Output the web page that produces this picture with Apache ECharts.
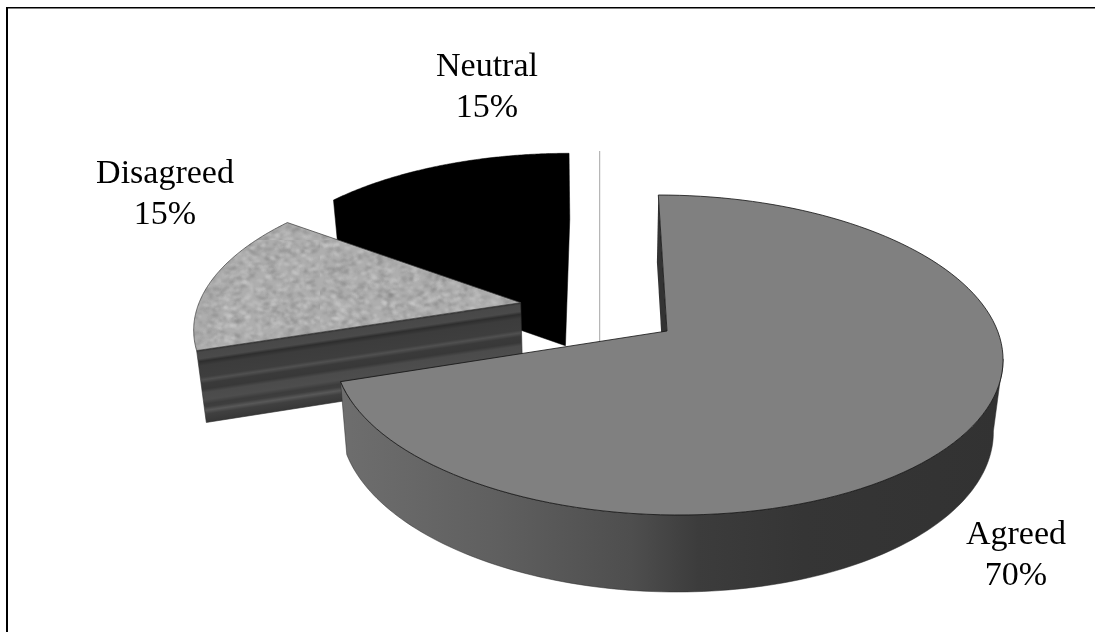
<!DOCTYPE html>
<html>
<head>
<meta charset="utf-8">
<title>Responses</title>
<style>
  html, body { margin: 0; padding: 0; background: #fff; }
  #chart { width: 1095px; height: 632px; }
</style>
<script src="https://cdn.jsdelivr.net/npm/echarts@6/dist/echarts.min.js"></script>
</head>
<body>
<div id="chart"></div>
<script>
// Survey responses, clockwise from twelve o'clock.
const categories = ['Agreed', 'Disagreed', 'Neutral'];
const shares = [70, 15, 15];

// Where each two-line label is centred on the page.
const labelCentres = [[1016, 556], [165, 195], [487, 88]];

// Exploded 3D pie: disc coordinates (u to the right, v towards the viewer)
// go through a perspective projection; depth runs from 0 (top face) to 1 (base).
const EXPLODE = 0.25;
const view = { cx: 667, cy: 331, rx: 330.6, ry: 156.4, shear: 10, persp: 0.15 };
const base = { vanishX: 600, inset: 0.024, drop: 67, dropRef: 195, dropSlope: 0.03125 };

// The outer wall only shows from where the rim turns to the viewer.
const RIM_TURN = 100 * Math.PI / 180;

// Banding across the cut face of the Disagreed slice, top edge to base.
const stripeStops = [0, 0.03, 0.12, 0.16, 0.22, 0.38, 0.42, 0.47, 0.55, 0.6, 0.7, 0.76, 0.8, 0.85, 0.9, 1];
const stripeTones = ['#333333', '#484848', '#4a4a4a', '#2e2e2e', '#3c3c3c', '#3e3e3e', '#505050', '#3a3a3a',
  '#383838', '#4b4b4b', '#4d4d4d', '#3c3c3c', '#3e3e3e', '#585858', '#404040', '#383838'];

function unitDir(theta) { return [Math.sin(theta), -Math.cos(theta)]; }

function project(u, v, depth) {
  const s = 1 / (1 - view.persp * v);
  let x = view.cx + (view.rx * u + view.shear * v) * s;
  let y = view.cy + view.ry * v * s;
  const topY = y;
  x += (base.vanishX - x) * base.inset * depth;
  y += depth * (base.drop + (topY - base.dropRef) * base.dropSlope);
  return [x, y];
}

const total = shares.reduce((a, b) => a + b, 0);
const spans = [];
shares.reduce((start, value) => {
  const end = start + value / total * Math.PI * 2;
  spans.push([start, end]);
  return end;
}, 0);

function sliceOrigin(i) {
  const mid = unitDir((spans[i][0] + spans[i][1]) / 2);
  const ref = unitDir((spans[0][0] + spans[0][1]) / 2);
  return [EXPLODE * (mid[0] - ref[0]), EXPLODE * (mid[1] - ref[1])];
}

function arcPoints(i, from, to, depth) {
  const o = sliceOrigin(i);
  const pts = [];
  const steps = 120;
  for (let k = 0; k <= steps; k++) {
    const d = unitDir(from + (to - from) * k / steps);
    pts.push(project(o[0] + d[0], o[1] + d[1], depth));
  }
  return pts;
}

function apexPoint(i, depth) {
  const o = sliceOrigin(i);
  return project(o[0], o[1], depth);
}

function radialWall(i, theta, d0, d1) {
  const o = sliceOrigin(i);
  const d = unitDir(theta);
  return [
    project(o[0], o[1], d0),
    project(o[0] + d[0], o[1] + d[1], d0),
    project(o[0] + d[0], o[1] + d[1], d1),
    project(o[0], o[1], d1)
  ];
}

// Mottled stone fill for the Disagreed face.
function stoneTexture() {
  const c = document.createElement('canvas');
  c.width = 320; c.height = 240;
  const ctx = c.getContext('2d');
  ctx.fillStyle = '#aeaeae';
  ctx.fillRect(0, 0, c.width, c.height);
  ctx.filter = 'blur(1px)';
  let seed = 12345;
  const next = () => (seed = (seed * 1103515245 + 12345) & 0x7fffffff) / 0x7fffffff;
  for (let n = 0; n < 5200; n++) {
    const light = next() > 0.5;
    ctx.fillStyle = light ? 'rgba(210,210,210,0.45)' : 'rgba(130,130,130,0.42)';
    ctx.beginPath();
    ctx.ellipse(next() * c.width, next() * c.height, 1.2 + next() * 2.6, 0.7 + next() * 1,
      (next() - 0.5) * 0.8, 0, Math.PI * 2);
    ctx.fill();
  }
  return c;
}
const stone = { image: stoneTexture(), repeat: 'repeat' };

const agreedWall = new echarts.graphic.LinearGradient(340, 0, 1003, 0, [
  { offset: 0, color: '#6e6e6e' },
  { offset: 0.24, color: '#5f5f5f' },
  { offset: 0.44, color: '#4e4e4e' },
  { offset: 0.54, color: '#3c3c3c' },
  { offset: 0.7, color: '#353535' },
  { offset: 1, color: '#323232' }
], true);

// Gradient running square to the top edge of a cut face, so the bands stay parallel to it.
function stripeFill(quad) {
  const [a, b, c, d] = quad;
  const ex = b[0] - a[0], ey = b[1] - a[1];
  const len = Math.hypot(ex, ey);
  const nx = -ey / len, ny = ex / len;
  const mid = [(a[0] + b[0]) / 2, (a[1] + b[1]) / 2];
  const low = [(c[0] + d[0]) / 2, (c[1] + d[1]) / 2];
  const reach = (low[0] - mid[0]) * nx + (low[1] - mid[1]) * ny;
  return new echarts.graphic.LinearGradient(
    mid[0], mid[1], mid[0] + nx * reach, mid[1] + ny * reach,
    stripeTones.map((color, j) => ({ offset: stripeStops[j], color: color })),
    true
  );
}

function polygon(points, fill, z2, stroke, lineWidth) {
  return {
    type: 'polygon',
    z2: z2,
    shape: { points: points },
    style: { fill: fill, stroke: stroke || null, lineWidth: lineWidth || 0 }
  };
}

function drawAgreed(i) {
  const [a, b] = spans[i];
  const upper = arcPoints(i, a, b, 0);
  const wallUpper = arcPoints(i, RIM_TURN, b, 0);
  const wallLower = arcPoints(i, RIM_TURN, b, 1);
  return [
    polygon(radialWall(i, a, 0, 1), '#333333', 30),
    polygon(wallUpper.concat(wallLower.slice().reverse()), agreedWall, 31, '#2a2a2a', 0.5),
    polygon([apexPoint(i, 0)].concat(upper), '#808080', 32, '#111111', 0.8)
  ];
}

function drawDisagreed(i) {
  const [a, b] = spans[i];
  const face = radialWall(i, a, 0, 1);
  return [
    polygon(face, stripeFill(face), 20, '#2b2b2b', 0.6),
    polygon([apexPoint(i, 0)].concat(arcPoints(i, a, b, 0)), stone, 22, '#3a3a3a', 0.7)
  ];
}

// Black on black: only the outline of the block reads, so it is one shape.
function drawNeutral(i) {
  const [a, b] = spans[i];
  const rim = arcPoints(i, a, b, 0);
  const silhouette = rim.concat([
    radialWall(i, b, 0, 1)[2],
    apexPoint(i, 1),
    radialWall(i, a, 0, 1)[2]
  ]);
  return [polygon(silhouette, '#000000', 10, '#000000', 0.5)];
}

const painters = [drawAgreed, drawDisagreed, drawNeutral];

function renderSlice(params, api) {
  const i = params.dataIndex;
  const value = api.value(0);
  const children = painters[i](i);
  children.push({
    type: 'text',
    z2: 50,
    style: {
      text: categories[i] + '\n' + value + '%',
      x: labelCentres[i][0],
      y: labelCentres[i][1],
      align: 'center',
      verticalAlign: 'middle',
      fontFamily: '"Liberation Serif", "Times New Roman", serif',
      fontSize: 34,
      lineHeight: 41,
      fill: '#000000'
    }
  });
  return { type: 'group', children: children };
}

const chart = echarts.init(document.getElementById('chart'), null, { renderer: 'canvas' });
chart.setOption({
  animation: false,
  backgroundColor: '#ffffff',
  graphic: [
    { type: 'line', z: 0, silent: true, shape: { x1: 7, y1: 7.5, x2: 7, y2: 632 }, style: { stroke: '#000', lineWidth: 2 } },
    { type: 'line', z: 0, silent: true, shape: { x1: 6, y1: 7.7, x2: 1095, y2: 7.7 }, style: { stroke: '#000', lineWidth: 1.4 } },
    { type: 'line', z: 0, silent: true, shape: { x1: 599.7, y1: 151, x2: 599.7, y2: 345 }, style: { stroke: '#a6a6a6', lineWidth: 1 } }
  ],
  series: [{
    type: 'custom',
    coordinateSystem: 'none',
    z: 2,
    silent: true,
    data: shares,
    renderItem: renderSlice
  }]
});
</script>
</body>
</html>
